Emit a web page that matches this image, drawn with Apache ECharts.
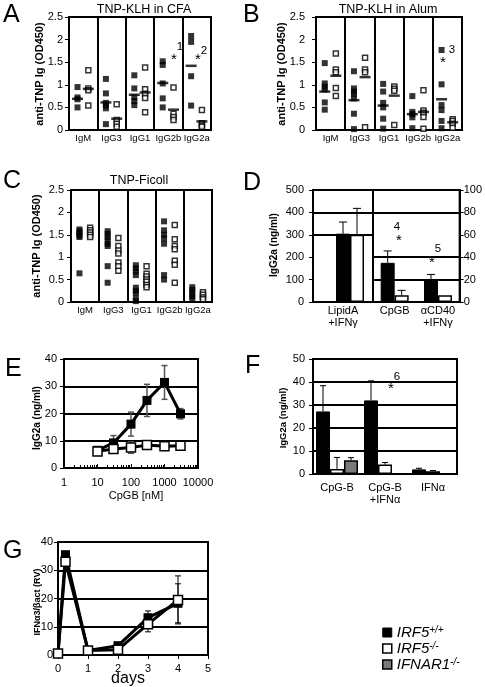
<!DOCTYPE html>
<html><head><meta charset="utf-8">
<script src="https://cdn.jsdelivr.net/npm/echarts/dist/echarts.min.js"></script>
<style>html,body{margin:0;padding:0;background:#fff}#c{width:485px;height:687px}</style>
</head><body><div id="c"></div>
<script>
// ---------------- DATA ----------------
const isotypes = ['IgM', 'IgG3', 'IgG1', 'IgG2b', 'IgG2a'];
// Panel A: TNP-KLH in CFA (OD450)
const aWT = [[0.95, 0.72, 0.68, 0.5], [1.13, 0.81, 0.6, 0.54, 0.48, 0.13], [1.21, 0.92, 0.72, 0.64, 0.55], [1.52, 1.44, 1.03, 0.7, 0.5], [2.08, 1.95, 1.19, 0.54]];
const aWTMean = [0.69, 0.61, 0.78, 1.04, 1.42];
const aKO = [[1.32, 0.92, 0.88, 0.54], [0.57, 0.22, 0.14, 0.07], [1.38, 0.9, 0.8, 0.71, 0.39], [0.94, 0.36, 0.29, 0.22], [0.44, 0.15, 0.1, 0.07]];
const aKOMean = [0.91, 0.25, 0.83, 0.45, 0.19];
// Panel B: TNP-KLH in Alum
const bWT = [[1.48, 1.03, 0.96, 0.9, 0.61, 0.45], [1.3, 0.92, 0.85, 0.8, 0.7, 0.36, 0.02], [1.02, 0.85, 0.6, 0.5, 0.25, 0.03], [0.75, 0.4, 0.35, 0.28, 0.04], [1.77, 1.01, 0.55, 0.44, 0.2, 0.04]];
const bWTMean = [0.85, 0.66, 0.54, 0.35, 0.68];
const bKO = [[1.69, 1.34, 1.28, 0.93, 0.75], [1.6, 1.34, 1.28, 0.06], [0.96, 0.91, 0.87, 0.11], [0.88, 0.43, 0.38, 0.29, 0.03], [0.24, 0.2, 0.14, 0.05]];
const bKOMean = [1.2, 1.17, 0.76, 0.4, 0.17];
// Panel C: TNP-Ficoll
const cWT = [[1.62, 1.58, 1.53, 1.48, 1.45, 0.64], [1.58, 1.52, 1.45, 1.38, 1.3, 1.25, 0.8, 0.43], [0.82, 0.75, 0.68, 0.6, 0.32, 0.25, 0.2, 0.08, 0.02], [1.8, 1.6, 1.5, 1.42, 1.3, 0.6, 0.5], [0.33, 0.27, 0.2, 0.13, 0.07]];
const cKO = [[1.66, 1.6, 1.55, 1.5, 1.45], [1.43, 1.25, 1.15, 1.08, 0.88, 0.8, 0.7], [0.8, 0.63, 0.57, 0.5, 0.45, 0.38, 0.33], [1.72, 1.4, 1.25, 1.18, 0.92, 0.83, 0.43], [0.22, 0.16, 0.1, 0.06]];
// Panel D: IgG2a (ng/ml), left section on left axis (0-500), right section on right axis (0-100)
const dLeftCats = ['LipidA\n+IFNγ'];
const dLeftWT = [305], dLeftWTErr = [52];
const dLeftKO = [300], dLeftKOErr = [118];
const dRightCats = ['CpGB', 'αCD40\n+IFNγ'];
const dRightWT = [35, 20], dRightWTErr = [10.6, 4.6];
const dRightKO = [6, 6], dRightKOErr = [4.4, 0];
const dLeftGridLines = [300, 400];
const dRightGridLines = [20, 40, 80];
// Panel E: IgG2a vs CpGB [nM]
const eX = [10, 30, 100, 300, 1000, 3000];
const eWT = [6.5, 9.2, 16.1, 24.8, 31.4, 19.9], eWTErr = [0.5, 2.7, 4.4, 5.9, 6.2, 1.9];
const eKO = [6.1, 7.0, 7.5, 8.4, 8.0, 8.2], eKOErr = [0.3, 0.5, 2.1, 0.5, 0.5, 0.5];
// Panel F
const fCats = ['CpG-B', 'CpG-B\n+IFNα', 'IFNα'];
const fWT = [27.2, 32, 2], fWTErr = [11.2, 8.5, 0.5];
const fKO = [2.2, 4.1, 1.2], fKOErr = [5, 0.9, 0.3];
const fIFNAR = [6, '-', '-'], fIFNARErr = [1.1, null, null];
// Panel G: IFNα3/βact (RV) vs days
const gX = [0, 0.25, 1, 2, 3, 4];
const gWT = [0.5, 35.5, 1.6, 3.3, 13.2, 18.3], gWTErr = [0, 0, 0, 0, 2.4, 6.9];
const gKO = [0.5, 33, 1.6, 1.9, 10.9, 19.5], gKOErr = [0, 0, 0, 0, 2.7, 8.5];
const legendNames = ['IRF5+/+', 'IRF5-/-', 'IFNAR1-/-'];

// ---------------- BUILD ----------------
const FONT = "'Liberation Sans', Arial, Helvetica, sans-serif";
const AX = {color: '#000', width: 2};
const TICK = {color: '#000', width: 1};
const WT_OFF = 0.3, KO_OFF = 0.68;
const gridBase = {show: true, borderColor: '#000', borderWidth: 2, backgroundColor: 'transparent'};
const grid = [
  {left: 69, top: 17, width: 142, height: 113},   // 0 A
  {left: 316, top: 17, width: 146, height: 113},  // 1 B
  {left: 71, top: 190, width: 141, height: 112},  // 2 C
  {left: 313, top: 190, width: 60, height: 112},  // 3 D left
  {left: 373, top: 190, width: 90, height: 112},  // 4 D right
  {left: 64, top: 359, width: 134, height: 109},  // 5 E
  {left: 313, top: 359, width: 144, height: 115}, // 6 F
  {left: 58, top: 542, width: 150, height: 113}   // 7 G
].map(g => Object.assign({}, gridBase, g));

const xAxis = [], yAxis = [], series = [];
const WTstyle = {color: '#000', borderColor: '#000', borderWidth: 1};
const KOstyle = {color: '#fff', borderColor: '#000', borderWidth: 1.5};
const NRstyle = {color: '#7a7a7a', borderColor: '#000', borderWidth: 1.5};

function yVal(gi, min, max, interval, margin, extra) {
  yAxis.push(Object.assign({gridIndex: gi, type: 'value', min, max, interval,
    axisLine: {show: true, lineStyle: AX}, axisTick: {show: true, length: 4, lineStyle: TICK},
    axisLabel: {color: '#000', fontSize: 11, margin}, splitLine: {show: false}}, extra || {}));
  return yAxis.length - 1;
}

function dotPanel(gi, wt, ko, wtMean, koMean, margin, sizes) {
  const xv = xAxis.length;
  xAxis.push({gridIndex: gi, type: 'value', min: 0, max: isotypes.length, interval: 1,
    axisLabel: {show: false}, axisTick: {show: false}, axisLine: {lineStyle: AX},
    splitLine: {show: true, lineStyle: AX}});
  xAxis.push({gridIndex: gi, type: 'category', position: 'bottom', data: isotypes,
    axisLine: {show: false}, axisTick: {show: false},
    axisLabel: {color: '#000', fontSize: 9.5, margin: 3, interval: 0}});
  const yi = yVal(gi, 0, 2.5, 0.5, margin);
  const pts = (arr, off) => { const d = []; arr.forEach((vals, i) => vals.forEach(v => d.push([i + off, v]))); return d; };
  series.push({type: 'scatter', xAxisIndex: xv, yAxisIndex: yi, symbol: 'rect', symbolSize: sizes[0],
    itemStyle: {color: '#000'}, data: pts(wt, WT_OFF), z: 3, silent: true});
  series.push({type: 'scatter', xAxisIndex: xv, yAxisIndex: yi, symbol: 'rect', symbolSize: sizes[1],
    itemStyle: {color: '#fff', borderColor: '#000', borderWidth: 1.5}, data: pts(ko, KO_OFF), z: 4, silent: true});
  if (wtMean) {
    series.push({type: 'scatter', xAxisIndex: xv, yAxisIndex: yi, symbol: 'rect', symbolSize: [11, 2.5],
      itemStyle: {color: '#000'}, data: wtMean.map((v, i) => [i + WT_OFF, v]), z: 5, silent: true});
    series.push({type: 'scatter', xAxisIndex: xv, yAxisIndex: yi, symbol: 'rect', symbolSize: [11, 2.5],
      itemStyle: {color: '#000'}, data: koMean.map((v, i) => [i + KO_OFF, v]), z: 5, silent: true});
  }
}

function errBars(xi, yi, xs, vals, errs, off, opt) {
  const data = [];
  xs.forEach((x, i) => {
    const v = vals[i], e = errs[i];
    if (e == null || typeof v !== 'number' || e <= 0) return;
    data.push([x, v, v + e, opt.both ? v - e : v]);
  });
  return {type: 'custom', xAxisIndex: xi, yAxisIndex: yi, z: opt.z || 4, silent: true, data,
    encode: {x: 0, y: [1, 2, 3]},
    renderItem: (params, api) => {
      const hi = api.coord([api.value(0), api.value(2)]);
      const lo = api.coord([api.value(0), api.value(3)]);
      const cx = hi[0] + off, w = opt.cap;
      const st = {stroke: opt.color, lineWidth: opt.lw};
      const ch = [{type: 'line', shape: {x1: cx, y1: hi[1], x2: cx, y2: lo[1]}, style: st},
                  {type: 'line', shape: {x1: cx - w, y1: hi[1], x2: cx + w, y2: hi[1]}, style: st}];
      if (opt.both) ch.push({type: 'line', shape: {x1: cx - w, y1: lo[1], x2: cx + w, y2: lo[1]}, style: st});
      return {type: 'group', children: ch};
    }};
}

function gridLineSeries(xi, yi, vals) {
  return {type: 'line', xAxisIndex: xi, yAxisIndex: yi, data: [], z: 1, silent: true,
    markLine: {silent: true, symbol: 'none', label: {show: false}, animation: false,
      lineStyle: {color: '#000', width: 2, type: 'solid'}, data: vals.map(v => ({yAxis: v}))}};
}

// A, B, C
dotPanel(0, aWT, aKO, aWTMean, aKOMean, 6, [6, 5]);
dotPanel(1, bWT, bKO, bWTMean, bKOMean, 11, [6, 5]);
dotPanel(2, cWT, cKO, null, null, 7, [6, 5]);

// D left
const dLx = xAxis.length;
xAxis.push({gridIndex: 3, type: 'category', data: dLeftCats, axisLine: {lineStyle: AX}, axisTick: {show: false},
  axisLabel: {color: '#000', fontSize: 11, margin: 3, lineHeight: 12}});
const dLy = yVal(3, 0, 500, 100, 9);
series.push(gridLineSeries(dLx, dLy, dLeftGridLines));
series.push({type: 'bar', xAxisIndex: dLx, yAxisIndex: dLy, data: dLeftCats.map(() => '-'), barWidth: 14, barGap: '0%', silent: true});
series.push({type: 'bar', name: 'IRF5+/+', xAxisIndex: dLx, yAxisIndex: dLy, data: dLeftWT, barWidth: 14, barGap: '0%', itemStyle: WTstyle, z: 2, silent: true});
series.push({type: 'bar', name: 'IRF5-/-', xAxisIndex: dLx, yAxisIndex: dLy, data: dLeftKO, barWidth: 14, barGap: '0%', itemStyle: KOstyle, z: 2, silent: true});
series.push(errBars(dLx, dLy, [0], dLeftWT, dLeftWTErr, 0, {cap: 4, color: '#000', lw: 1}));
series.push(errBars(dLx, dLy, [0], dLeftKO, dLeftKOErr, 14, {cap: 4, color: '#000', lw: 1}));

// D right
const dRx = xAxis.length;
xAxis.push({gridIndex: 4, type: 'category', data: dRightCats, axisLine: {lineStyle: AX}, axisTick: {show: false},
  axisLabel: {color: '#000', fontSize: 11, margin: 3, lineHeight: 12, interval: 0}});
const dRy = yVal(4, 0, 100, 20, 4, {position: 'right'});
series.push(gridLineSeries(dRx, dRy, dRightGridLines));
series.push({type: 'bar', name: 'IRF5+/+', xAxisIndex: dRx, yAxisIndex: dRy, data: dRightWT, barWidth: 14, barGap: '0%', itemStyle: WTstyle, z: 2, silent: true});
series.push({type: 'bar', name: 'IRF5-/-', xAxisIndex: dRx, yAxisIndex: dRy, data: dRightKO, barWidth: 14, barGap: '0%', itemStyle: KOstyle, z: 2, silent: true});
series.push(errBars(dRx, dRy, [0, 1], dRightWT, dRightWTErr, -7, {cap: 4, color: '#000', lw: 1}));
series.push(errBars(dRx, dRy, [0, 1], dRightKO, dRightKOErr, 7, {cap: 4, color: '#000', lw: 1}));

// E
const eXi = xAxis.length;
xAxis.push({gridIndex: 5, type: 'log', logBase: 10, min: 1, max: 10000,
  axisLine: {lineStyle: AX}, axisTick: {show: true, inside: true, length: 4, lineStyle: TICK},
  minorTick: {show: true, splitNumber: 9, length: 3, lineStyle: TICK},
  axisLabel: {color: '#000', fontSize: 11, margin: 9, formatter: v => String(Math.round(v))},
  splitLine: {show: false}});
const eYi = yVal(5, 0, 40, 10, 7, {splitLine: {show: true, lineStyle: AX}});
series.push(errBars(eXi, eYi, eX, eWT, eWTErr, 0, {cap: 3, color: '#555', lw: 1.5, both: true, z: 2}));
series.push(errBars(eXi, eYi, eX, eKO, eKOErr, 0, {cap: 3, color: '#555', lw: 1.5, both: true, z: 2}));
series.push({type: 'line', xAxisIndex: eXi, yAxisIndex: eYi, data: eX.map((x, i) => [x, eWT[i]]), z: 3, silent: true,
  lineStyle: {color: '#000', width: 3}, symbol: 'rect', symbolSize: 9, itemStyle: {color: '#000'}});
series.push({type: 'line', xAxisIndex: eXi, yAxisIndex: eYi, data: eX.map((x, i) => [x, eKO[i]]), z: 4, silent: true,
  lineStyle: {color: '#000', width: 3}, symbol: 'rect', symbolSize: 9, itemStyle: {color: '#fff', borderColor: '#000', borderWidth: 1.5}});

// F
const fXi = xAxis.length;
xAxis.push({gridIndex: 6, type: 'category', data: fCats, axisLine: {lineStyle: AX}, axisTick: {show: false},
  axisLabel: {color: '#000', fontSize: 11, margin: 8, lineHeight: 12, interval: 0}});
const fYi = yVal(6, 0, 50, 10, 8, {splitLine: {show: true, lineStyle: AX}});
series.push({type: 'bar', name: 'IRF5+/+', xAxisIndex: fXi, yAxisIndex: fYi, data: fWT, barWidth: 14, barGap: '0%', itemStyle: WTstyle, z: 2, silent: true});
series.push({type: 'bar', name: 'IRF5-/-', xAxisIndex: fXi, yAxisIndex: fYi, data: fKO, barWidth: 14, barGap: '0%', itemStyle: KOstyle, z: 2, silent: true});
series.push({type: 'bar', name: 'IFNAR1-/-', xAxisIndex: fXi, yAxisIndex: fYi, data: fIFNAR, barWidth: 14, barGap: '0%', itemStyle: NRstyle, z: 2, silent: true});
series.push(errBars(fXi, fYi, [0, 1, 2], fWT, fWTErr, -14, {cap: 3, color: '#000', lw: 1}));
series.push(errBars(fXi, fYi, [0, 1, 2], fKO, fKOErr, 0, {cap: 3, color: '#000', lw: 1}));
series.push(errBars(fXi, fYi, [0, 1, 2], fIFNAR, fIFNARErr, 14, {cap: 3, color: '#000', lw: 1}));

// G
const gXi = xAxis.length;
xAxis.push({gridIndex: 7, type: 'value', min: 0, max: 5, interval: 1, axisLine: {lineStyle: AX},
  axisTick: {show: true, length: 4, lineStyle: TICK}, axisLabel: {color: '#000', fontSize: 11, margin: 8}, splitLine: {show: false}});
const gYi = yVal(7, 0, 40, 10, 5, {splitLine: {show: true, lineStyle: AX}});
series.push(errBars(gXi, gYi, gX, gWT, gWTErr, 0, {cap: 3, color: '#000', lw: 1, both: true, z: 2}));
series.push(errBars(gXi, gYi, gX, gKO, gKOErr, 0, {cap: 3, color: '#000', lw: 1, both: true, z: 2}));
series.push({type: 'line', xAxisIndex: gXi, yAxisIndex: gYi, data: gX.map((x, i) => [x, gWT[i]]), z: 3, silent: true,
  lineStyle: {color: '#000', width: 3}, symbol: 'rect', symbolSize: 9, itemStyle: {color: '#000'}});
series.push({type: 'line', xAxisIndex: gXi, yAxisIndex: gYi, data: gX.map((x, i) => [x, gKO[i]]), z: 4, silent: true,
  lineStyle: {color: '#000', width: 3}, symbol: 'rect', symbolSize: 9, itemStyle: {color: '#fff', borderColor: '#000', borderWidth: 1.5}});

// ---------------- TEXT ----------------
const graphic = [];
function txt(x, y, s, o) {
  graphic.push({type: 'text', x, y, silent: true, rotation: (o && o.rot) || 0,
    style: Object.assign({text: s, fill: '#000', fontFamily: FONT, fontSize: 11, align: 'center', verticalAlign: 'middle'}, o || {})});
}
// panel letters
[['A', 3, 15], ['B', 243, 15], ['C', 3, 181], ['D', 243, 183], ['E', 5, 369], ['F', 245, 366], ['G', 3, 551]]
  .forEach(([s, x, y]) => txt(x, y, s, {fontSize: 25, align: 'left'}));
// titles
txt(144, 10, 'TNP-KLH in CFA', {fontSize: 12.5});
txt(388, 10, 'TNP-KLH in Alum', {fontSize: 12.5});
txt(139, 181, 'TNP-Ficoll', {fontSize: 12.5});
// y-axis names
const R = Math.PI / 2;
txt(40, 74, 'anti-TNP Ig (OD450)', {fontSize: 11, fontWeight: 'bold', rot: R});
txt(282, 74, 'anti-TNP Ig (OD450)', {fontSize: 11, fontWeight: 'bold', rot: R});
txt(37, 246, 'anti-TNP Ig (OD450)', {fontSize: 11, fontWeight: 'bold', rot: R});
txt(274, 245, 'IgG2a (ng/ml)', {fontSize: 10, fontWeight: 'bold', rot: R});
txt(37, 418, 'IgG2a (ng/ml)', {fontSize: 10, fontWeight: 'bold', rot: R});
txt(283, 418, 'IgG2a (ng/ml)', {fontSize: 9.5, fontWeight: 'bold', rot: R});
txt(38, 602, 'IFNα3/βact (RV)', {fontSize: 9, fontWeight: 'bold', rot: R});
// x-axis names
txt(136, 496, 'CpGB [nM]', {fontSize: 11});
txt(128, 679, 'days', {fontSize: 16});
// annotations
txt(180, 47, '1', {fontSize: 11.5}); txt(174, 60, '*', {fontSize: 15});
txt(204, 51, '2', {fontSize: 11.5}); txt(198, 60, '*', {fontSize: 15});
txt(452, 50, '3', {fontSize: 11.5}); txt(443, 63, '*', {fontSize: 15});
txt(397, 227, '4', {fontSize: 11.5}); txt(399, 241, '*', {fontSize: 15});
txt(438, 249, '5', {fontSize: 11.5}); txt(432, 263, '*', {fontSize: 15});
txt(397, 377, '6', {fontSize: 11.5}); txt(391, 389, '*', {fontSize: 15});

const option = {
  animation: false,
  backgroundColor: '#fff',
  textStyle: {fontFamily: FONT, color: '#000'},
  grid, xAxis, yAxis, series, graphic,
  legend: {
    orient: 'vertical', left: 377, top: 620, itemWidth: 9, itemHeight: 9, itemGap: 1,
    selectedMode: false, icon: 'rect',
    data: [
      {name: legendNames[0], itemStyle: {color: '#000', borderColor: '#000', borderWidth: 1}},
      {name: legendNames[1], itemStyle: {color: '#fff', borderColor: '#000', borderWidth: 1.5}},
      {name: legendNames[2], itemStyle: {color: '#7a7a7a', borderColor: '#000', borderWidth: 1.5}}
    ],
    formatter: n => { const m = n.match(/^(.*?)([+-]\/[+-])$/); return '{b|' + m[1] + '}{s|' + m[2] + '}'; },
    textStyle: {rich: {
      b: {fontSize: 15, fontStyle: 'italic', fontFamily: FONT, color: '#000', lineHeight: 15},
      s: {fontSize: 10, fontStyle: 'italic', fontFamily: FONT, color: '#000', verticalAlign: 'top', lineHeight: 10}
    }}
  }
};
const chart = echarts.init(document.getElementById('c'), null, {renderer: 'canvas'});
chart.setOption(option);
</script></body></html>
